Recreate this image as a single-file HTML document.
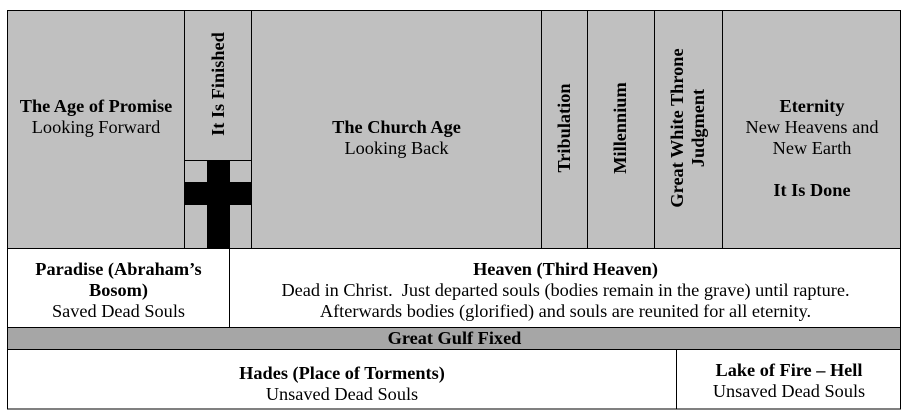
<!DOCTYPE html>
<html><head><meta charset="utf-8"><style>
body{margin:0;width:907px;height:413px;background:#fff;position:relative;overflow:hidden;font-family:"Liberation Serif",serif;font-size:18.3px;color:#000}
.t{position:absolute;text-align:center;line-height:21px;white-space:nowrap}
b{font-weight:bold}
.v{position:absolute;transform:rotate(-90deg);white-space:nowrap;text-align:center;font-weight:bold;line-height:20px}
</style></head><body>
<svg width="907" height="413" style="position:absolute;left:0;top:0">
<rect x="7.5" y="10.5" width="893" height="238" fill="#c0c0c0" stroke="#000"/>
<rect x="7.5" y="327.5" width="893" height="22" fill="#a6a6a6" stroke="#000"/>
<rect x="7.5" y="248.5" width="893" height="160.5" fill="none" stroke="#000"/>
<g stroke="#000">
<line x1="184.5" y1="10" x2="184.5" y2="248"/>
<line x1="251.5" y1="10" x2="251.5" y2="248"/>
<line x1="541.5" y1="10" x2="541.5" y2="248"/>
<line x1="587.5" y1="10" x2="587.5" y2="248"/>
<line x1="654.5" y1="10" x2="654.5" y2="248"/>
<line x1="722.5" y1="10" x2="722.5" y2="248"/>
<line x1="184" y1="160.5" x2="251" y2="160.5"/>
<line x1="229.5" y1="248" x2="229.5" y2="327"/>
<line x1="676.5" y1="349" x2="676.5" y2="409"/>
</g>
<rect x="207" y="160" width="23" height="88" fill="#000"/>
<rect x="184" y="182" width="67" height="23" fill="#000"/>
</svg>
<div class="t" style="left:8px;top:96px;width:176px"><b>The Age of Promise</b><br>Looking Forward</div>
<div class="v" style="left:118px;top:74px;width:200px">It Is Finished</div>
<div class="t" style="left:252px;top:117px;width:289px"><b>The Church Age</b><br>Looking Back</div>
<div class="v" style="left:464px;top:118px;width:200px">Tribulation</div>
<div class="v" style="left:520px;top:118px;width:200px">Millennium</div>
<div class="v" style="left:578px;top:107px;width:220px;line-height:21px">Great White Throne<br>Judgment</div>
<div class="t" style="left:723px;top:96px;width:178px"><b>Eternity</b><br>New Heavens and<br>New Earth<br><br><b>It Is Done</b></div>
<div class="t" style="left:8px;top:259px;width:221px"><b>Paradise (Abraham’s<br>Bosom)</b><br>Saved Dead Souls</div>
<div class="t" style="left:230px;top:259px;width:671px"><b>Heaven (Third Heaven)</b><br>Dead in Christ.&nbsp; Just departed souls (bodies remain in the grave) until rapture.<br>Afterwards bodies (glorified) and souls are reunited for all eternity.</div>
<div class="t" style="left:8px;top:328px;width:893px"><b>Great Gulf Fixed</b></div>
<div class="t" style="left:8px;top:363px;width:668px"><b>Hades (Place of Torments)</b><br>Unsaved Dead Souls</div>
<div class="t" style="left:677px;top:360px;width:224px"><b>Lake of Fire – Hell</b><br>Unsaved Dead Souls</div>
</body></html>
